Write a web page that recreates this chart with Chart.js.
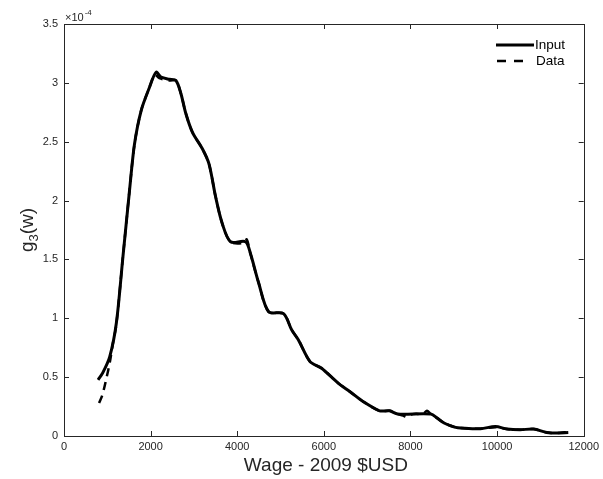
<!DOCTYPE html>
<html>
<head>
<meta charset="utf-8">
<script src="https://cdn.jsdelivr.net/npm/chart.js@4.4.1/dist/chart.umd.min.js"></script>
<style>
html,body{margin:0;padding:0;background:#fff;}
#wrap{width:603px;height:479px;position:relative;}
</style>
</head>
<body>
<div id="wrap"><canvas id="c" width="603" height="479"></canvas></div>
<script>
// Values in units of 1e-4 (axis exponent shown as ×10^-4)
const xTicks = [0, 2000, 4000, 6000, 8000, 10000, 12000];
const yTicks = [0, 0.5, 1, 1.5, 2, 2.5, 3, 3.5];

const inputX = [787, 894, 1055, 1209, 1360, 1514, 1628, 1782, 1972, 2126, 2240, 2431, 2584, 2699, 2813, 2966, 3195, 3349, 3502, 3654, 3846, 4190, 4305, 4495, 4725, 5069, 5259, 5413, 5681, 5948, 6330, 6598, 6904, 7287, 7516, 7706, 8471, 8624, 8777, 8929, 9044, 9158, 9617, 9961, 10229, 10534, 10841, 11147, 11376, 11644];
const inputY = [0.477, 0.536, 0.672, 0.96, 1.52, 2.09, 2.48, 2.765, 2.96, 3.09, 3.05, 3.03, 3.02, 2.91, 2.74, 2.58, 2.44, 2.31, 2.03, 1.805, 1.65, 1.65, 1.55, 1.30, 1.056, 1.04, 0.90, 0.816, 0.632, 0.576, 0.449, 0.378, 0.293, 0.214, 0.214, 0.186, 0.186, 0.15, 0.11, 0.087, 0.073, 0.068, 0.062, 0.081, 0.059, 0.053, 0.059, 0.03, 0.025, 0.03];

const dataX = [810, 887, 979, 1055, 1131, 1209, 1360, 1514, 1628, 1782, 1972, 2100, 2200, 2431, 2584, 2699, 2813, 2966, 3195, 3349, 3502, 3654, 3846, 4150, 4220, 4305, 4495, 4725, 5069, 5259, 5413, 5681, 5948, 6330, 6598, 6904, 7287, 7516, 7706, 7850, 7936, 8050, 8300, 8380, 8471, 8624, 8777, 8929, 9044, 9158, 9617, 9961, 10229, 10534, 10841, 11147, 11376, 11644];
const dataY = [0.28, 0.35, 0.49, 0.62, 0.79, 0.95, 1.52, 2.09, 2.48, 2.765, 2.96, 3.07, 3.04, 3.02, 3.02, 2.91, 2.74, 2.58, 2.44, 2.31, 2.03, 1.805, 1.65, 1.64, 1.67, 1.55, 1.30, 1.056, 1.04, 0.90, 0.816, 0.632, 0.576, 0.449, 0.378, 0.293, 0.214, 0.214, 0.186, 0.17, 0.16, 0.186, 0.19, 0.215, 0.186, 0.15, 0.11, 0.087, 0.073, 0.068, 0.062, 0.075, 0.059, 0.053, 0.059, 0.03, 0.025, 0.035];

const seriesNames = ['Input', 'Data'];
const xTitle = 'Wage - 2009 $USD';
const FONT = '"Liberation Sans", Arial, Helvetica, sans-serif';
const AX = '#262626';

const toPts = (xs, ys) => xs.map((x, i) => ({x: x, y: ys[i]}));

const boxPlugin = {
  id: 'box',
  afterDraw(chart) {
    const {ctx, chartArea: a, scales} = chart;
    const xs = scales.x, ys = scales.y;
    ctx.save();
    ctx.strokeStyle = AX;
    ctx.lineWidth = 1;
    ctx.strokeRect(Math.round(a.left) + 0.5, Math.round(a.top) + 0.5, Math.round(a.right - a.left), Math.round(a.bottom - a.top));
    const tl = 5;
    ctx.beginPath();
    xTicks.forEach(v => {
      const px = Math.round(xs.getPixelForValue(v)) + 0.5;
      ctx.moveTo(px, a.bottom); ctx.lineTo(px, a.bottom - tl);
      ctx.moveTo(px, a.top); ctx.lineTo(px, a.top + tl);
    });
    yTicks.forEach(v => {
      const py = Math.round(ys.getPixelForValue(v)) + 0.5;
      ctx.moveTo(a.left, py); ctx.lineTo(a.left + tl, py);
      ctx.moveTo(a.right, py); ctx.lineTo(a.right - tl, py);
    });
    ctx.stroke();

    // exponent label
    ctx.fillStyle = AX;
    ctx.textBaseline = 'alphabetic';
    ctx.textAlign = 'left';
    ctx.font = '11px ' + FONT;
    ctx.fillText('\u00d710', a.left + 1, a.top - 3);
    const w = ctx.measureText('\u00d710').width;
    ctx.font = '8px ' + FONT;
    ctx.fillText('-4', a.left + 1 + w + 1, a.top - 9);

    // x title
    ctx.font = '19px ' + FONT;
    ctx.textAlign = 'center';
    ctx.fillText(xTitle, (a.left + a.right) / 2 + 2, 471);

    // y title with subscript
    ctx.save();
    ctx.translate(33, 230);
    ctx.rotate(-Math.PI / 2);
    ctx.textAlign = 'left';
    const g = 'g', rest = '(w)';
    ctx.font = '19px ' + FONT;
    const gw = ctx.measureText(g).width;
    ctx.font = '13px ' + FONT;
    const sw = ctx.measureText('3').width;
    ctx.font = '19px ' + FONT;
    const rw = ctx.measureText(rest).width;
    const total = gw + sw + rw;
    let x0 = -total / 2;
    ctx.fillText(g, x0, 0);
    ctx.font = '13px ' + FONT;
    ctx.fillText('3', x0 + gw, 5);
    ctx.font = '19px ' + FONT;
    ctx.fillText(rest, x0 + gw + sw, 0);
    ctx.restore();

    // legend
    ctx.font = '13.5px ' + FONT;
    ctx.textAlign = 'left';
    ctx.textBaseline = 'middle';
    ctx.fillStyle = '#000';
    ctx.strokeStyle = '#000';
    ctx.lineWidth = 3;
    ctx.setLineDash([]);
    ctx.beginPath(); ctx.moveTo(496, 45); ctx.lineTo(534, 45); ctx.stroke();
    ctx.fillText(seriesNames[0], 535, 45);
    ctx.lineWidth = 2.5;
    ctx.setLineDash([9, 8]);
    ctx.beginPath(); ctx.moveTo(497, 61); ctx.lineTo(531, 61); ctx.stroke();
    ctx.setLineDash([]);
    ctx.fillText(seriesNames[1], 536, 61);
    ctx.restore();
  }
};

new Chart(document.getElementById('c'), {
  type: 'line',
  data: {
    datasets: [
      {label: seriesNames[0], data: toPts(inputX, inputY), borderColor: '#000', borderWidth: 3, pointRadius: 0, tension: 0.3, fill: false},
      {label: seriesNames[1], data: toPts(dataX, dataY), borderColor: '#000', borderWidth: 2.5, borderDash: [8, 6], pointRadius: 0, tension: 0.3, fill: false}
    ]
  },
  options: {
    responsive: false,
    animation: false,
    events: [],
    layout: {padding: {top: 24, right: 16, left: 0, bottom: 0}},
    plugins: {legend: {display: false}, tooltip: {enabled: false}},
    scales: {
      x: {
        type: 'linear', min: 0, max: 12000,
        afterBuildTicks: s => { s.ticks = xTicks.map(v => ({value: v})); },
        afterFit: s => { s.height = 43; },
        grid: {display: false, drawTicks: false},
        border: {display: false},
        ticks: {padding: 4, color: AX, font: {family: FONT, size: 11}, maxRotation: 0, callback: v => String(v)}
      },
      y: {
        type: 'linear', min: 0, max: 3.5,
        afterBuildTicks: s => { s.ticks = yTicks.map(v => ({value: v})); },
        afterFit: s => { s.width = 64; },
        grid: {display: false, drawTicks: false},
        border: {display: false},
        ticks: {padding: 6, color: AX, font: {family: FONT, size: 11}, callback: v => String(Math.round(v * 10) / 10)}
      }
    }
  },
  plugins: [boxPlugin]
});
</script>
</body>
</html>
